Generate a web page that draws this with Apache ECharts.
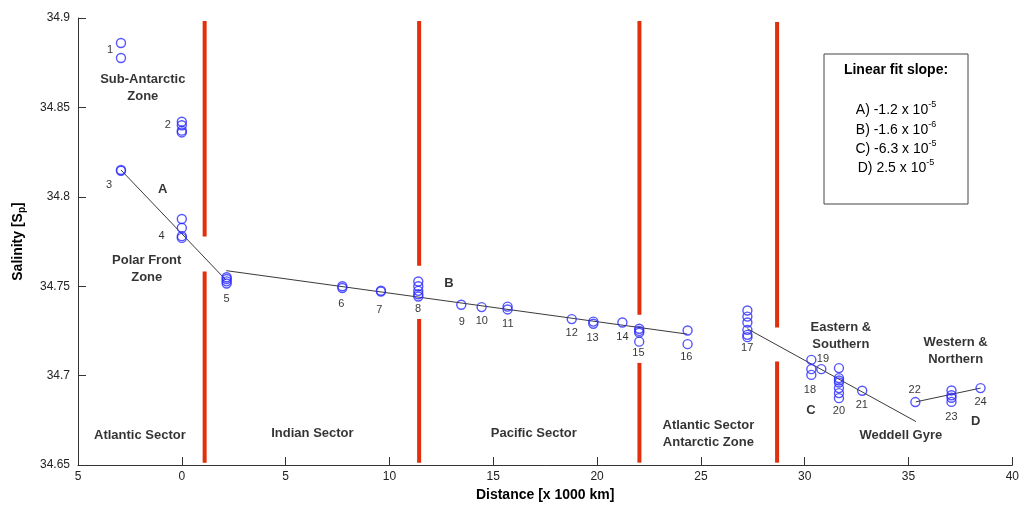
<!DOCTYPE html>
<html>
<head>
<meta charset="utf-8">
<script src="https://cdn.jsdelivr.net/npm/echarts@6/dist/echarts.min.js"></script>
<style>
html,body{margin:0;padding:0;background:#fff;}
#chart{width:1022px;height:507px;}
</style>
</head>
<body>
<div id="chart"></div>
<script>
// ---------- data ----------
const stationNames = ['1','2','3','4','5','6','7','8','9','10','11','12','13','14','15','16','17','18','19','20','21','22','23','24'];
const stationX = [-2.93, 0.0, -2.93, 0.0, 2.16, 7.73, 9.59, 11.39, 13.46, 14.44, 15.69, 18.78, 19.82, 21.22, 22.03, 24.36, 27.24, 30.32, 30.80, 31.65, 32.77, 35.33, 37.07, 38.47];
const stationSal = [
  [34.886, 34.8776],
  [34.842, 34.840, 34.837, 34.836],
  [34.815, 34.8145],
  [34.7876, 34.7826, 34.778, 34.777],
  [34.755, 34.754, 34.7527, 34.7515],
  [34.750, 34.749],
  [34.7475, 34.747],
  [34.7526, 34.750, 34.7474, 34.7455, 34.7442],
  [34.7396],
  [34.7383],
  [34.7386, 34.737],
  [34.7316],
  [34.7302, 34.729],
  [34.7297],
  [34.7262, 34.725, 34.724, 34.719],
  [34.7252, 34.7176],
  [34.7364, 34.733, 34.7297, 34.7256, 34.7228, 34.7215],
  [34.7088, 34.7036, 34.7004],
  [34.7036],
  [34.7042, 34.6986, 34.6973, 34.6961, 34.693, 34.6902, 34.6874],
  [34.6915],
  [34.6852],
  [34.6917, 34.689, 34.6876, 34.6853],
  [34.693]
];
// station number label anchor (data coords)
const stationLabelX = [-3.46, -0.68, -3.51, -0.97, 2.16, 7.68, 9.51, 11.38, 13.49, 14.45, 15.70, 18.78, 19.78, 21.22, 21.99, 24.30, 27.23, 30.25, 30.88, 31.65, 32.75, 35.30, 37.07, 38.47];
const stationLabelY = [34.8821, 34.8402, 34.8066, 34.7781, 34.7429, 34.7401, 34.7368, 34.7373, 34.7301, 34.7306, 34.7290, 34.7239, 34.7211, 34.7217, 34.7128, 34.7105, 34.7155, 34.6920, 34.7094, 34.6803, 34.6837, 34.6920, 34.6770, 34.6853];

// linear fits (end points)
const fitNames = ['A', 'B', 'C', 'D'];
const fitX = [[-2.93, 2.13], [2.14, 24.35], [27.24, 35.36], [35.35, 38.47]];
const fitY = [[34.815, 34.7534], [34.7587, 34.7232], [34.7262, 34.6743], [34.6853, 34.693]];
const fitLabelX = [-0.92, 12.87, 30.30, 38.23];
const fitLabelY = [34.8044, 34.7513, 34.6803, 34.6742];

// sector boundaries (red lines with gaps)
const boundaryX = [1.10, 11.43, 22.04, 28.67];
const boundaryTop = [34.8983, 34.8983, 34.8983, 34.8978];
const boundaryGapTop = [34.7778, 34.7614, 34.734, 34.7269];
const boundaryGapBottom = [34.7582, 34.7316, 34.7071, 34.7079];
const boundaryBottom = [34.6513, 34.6513, 34.6513, 34.6513];

// region labels
const regionText = ['Sub-Antarctic\nZone', 'Polar Front\nZone', 'Atlantic Sector', 'Indian Sector', 'Pacific Sector', 'Atlantic Sector\nAntarctic Zone', 'Eastern &\nSouthern', 'Western &\nNorthern', 'Weddell Gyre'];
const regionX = [-1.88, -1.69, -2.02, 6.29, 16.95, 25.36, 31.74, 37.27, 34.63];
const regionY = [34.8609, 34.7597, 34.6663, 34.6675, 34.6675, 34.6675, 34.7222, 34.7138, 34.6663];

// slope box
const slopeTitle = 'Linear fit slope:';
const slopeMantissa = ['-1.2', '-1.6', '-6.3', '2.5'];
const slopeExp = ['-5', '-6', '-5', '-5'];

// axes
const xMin = -5, xMax = 40, xInterval = 5;
const yMin = 34.65, yMax = 34.9, yInterval = 0.05;

// ---------- chart ----------
const chart = echarts.init(document.getElementById('chart'), null, {renderer: 'canvas'});
const FONT = "'Liberation Sans', Arial, sans-serif";
const series = [];

// red boundaries
boundaryX.forEach((bx, i) => {
  [[boundaryTop[i], boundaryGapTop[i]], [boundaryGapBottom[i], boundaryBottom[i]]].forEach(seg => {
    series.push({
      type: 'line', silent: true, symbol: 'none', z: 1,
      lineStyle: {color: '#e0300c', width: 4},
      data: [[bx, seg[0]], [bx, seg[1]]]
    });
  });
});

// fit lines
fitX.forEach((fx, i) => {
  series.push({
    type: 'line', silent: true, symbol: 'none', z: 2,
    lineStyle: {color: '#3a3a3a', width: 1},
    data: [[fx[0], fitY[i][0]], [fx[1], fitY[i][1]]]
  });
});

// station points
const pts = [];
stationSal.forEach((arr, i) => arr.forEach(v => pts.push([stationX[i], v])));
series.push({
  type: 'scatter', z: 3, symbol: 'circle', symbolSize: 9,
  itemStyle: {color: 'rgba(0,0,0,0)', borderColor: '#2a2aff', borderWidth: 1.4},
  data: pts
});

// station number labels
series.push({
  type: 'scatter', z: 4, symbolSize: 0, silent: true,
  label: {show: true, position: 'inside', formatter: p => p.name, color: '#000', fontSize: 11, fontFamily: FONT},
  data: stationNames.map((n, i) => ({name: n, value: [stationLabelX[i], stationLabelY[i]]}))
});

// fit labels
series.push({
  type: 'scatter', z: 4, symbolSize: 0, silent: true,
  label: {show: true, position: 'inside', formatter: p => p.name, color: '#000', fontSize: 13, fontWeight: 'bold', fontFamily: FONT},
  data: fitNames.map((n, i) => ({name: n, value: [fitLabelX[i], fitLabelY[i]]}))
});

// region labels
series.push({
  type: 'scatter', z: 4, symbolSize: 0, silent: true,
  label: {show: true, position: 'inside', formatter: p => p.name, color: '#000', fontSize: 13, fontWeight: 'bold', lineHeight: 17, align: 'center', fontFamily: FONT},
  data: regionText.map((t, i) => ({name: t, value: [regionX[i], regionY[i]]}))
});

// slope box graphic
const boxX = 824, boxY = 54, boxW = 144, boxH = 150;
const graphics = [
  {type: 'rect', shape: {x: boxX, y: boxY, width: boxW, height: boxH}, style: {fill: '#fff', stroke: '#444', lineWidth: 1}, z: 10},
  {type: 'text', x: boxX + boxW / 2, y: 70, z: 11,
   style: {text: slopeTitle, fill: '#000', font: "bold 14px " + FONT, textAlign: 'center', textVerticalAlign: 'middle'}}
];
slopeMantissa.forEach((m, i) => {
  graphics.push({
    type: 'text', x: boxX + boxW / 2, y: 109 + i * 19.3, z: 11,
    style: {
      text: '{b|' + fitNames[i] + ') ' + m + ' x 10}{s|' + slopeExp[i] + '}',
      textAlign: 'center', textVerticalAlign: 'middle',
      rich: {
        b: {fontSize: 14, fontFamily: FONT, fill: '#000', color: '#000', verticalAlign: 'bottom'},
        s: {fontSize: 9, fontFamily: FONT, fill: '#000', color: '#000', padding: [0, 0, 8, 0], verticalAlign: 'bottom'}
      }
    }
  });
});

chart.setOption({
  animation: false,
  backgroundColor: '#fff',
  grid: {left: 78, right: 7, top: 18, bottom: 42, containLabel: false},
  xAxis: {
    type: 'value', min: xMin, max: xMax, interval: xInterval,
    name: 'Distance [x 1000 km]', nameLocation: 'middle', nameGap: 21,
    nameTextStyle: {fontFamily: FONT, fontSize: 14, fontWeight: 'bold', color: '#000'},
    axisLine: {show: true, onZero: false, lineStyle: {color: '#333', width: 1}},
    axisTick: {show: true, inside: true, length: 8, lineStyle: {color: '#333'}},
    axisLabel: {color: '#222', fontSize: 12, fontFamily: FONT, margin: 6,
      formatter: v => String(Math.abs(v))},
    splitLine: {show: false}
  },
  yAxis: {
    type: 'value', min: yMin, max: yMax, interval: yInterval,
    name: '{n|Salinity [S}{sub|p}{n|]}', nameLocation: 'middle', nameGap: 51, nameRotate: 90,
    nameTextStyle: {
      rich: {
        n: {fontFamily: FONT, fontSize: 14, fontWeight: 'bold', color: '#000'},
        sub: {fontFamily: FONT, fontSize: 10, fontWeight: 'bold', color: '#000', padding: [8, 0, 0, 0]}
      }
    },
    axisLine: {show: true, onZero: false, lineStyle: {color: '#333', width: 1}},
    axisTick: {show: true, inside: true, length: 8, lineStyle: {color: '#333'}},
    axisLabel: {color: '#222', fontSize: 12, fontFamily: FONT, margin: 8,
      formatter: v => String(parseFloat(v.toFixed(2)))},
    splitLine: {show: false}
  },
  graphic: graphics,
  series: series
});
</script>
</body>
</html>
